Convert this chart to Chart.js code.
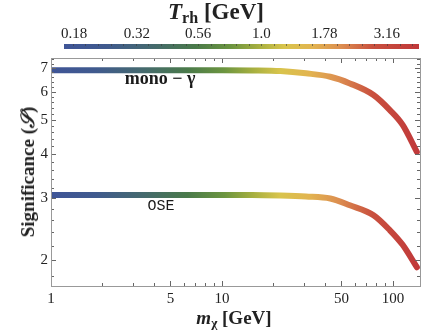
<!DOCTYPE html>
<html>
<head>
<meta charset="utf-8">
<script src="https://cdn.jsdelivr.net/npm/chart.js@4.4.1/dist/chart.umd.min.js"></script>
<style>
  body { margin: 0; background: #fff; }
  #wrap { position: relative; width: 440px; height: 330px; font-family: "Liberation Serif", serif; color: #222; }
  #wrap canvas { position: absolute; left: 0; top: 0; }
  .title { position: absolute; white-space: nowrap; font-weight: bold; transform: translate(-50%, -50%); }
  .title sub { font-size: 70%; vertical-align: -0.25em; line-height: 0; }
</style>
</head>
<body>
<div id="wrap">
  <canvas id="main" width="440" height="330"></canvas>
  <canvas id="bar" width="440" height="58"></canvas>
  <div class="title" style="left:216px;top:12px;font-size:23px"><i>T</i><sub>rh</sub> [GeV]</div>
  <div class="title" style="left:234px;top:318px;font-size:19px"><i>m</i><sub>χ</sub> [GeV]</div>
  <div class="title" style="left:28px;top:172px;font-size:19px;transform:translate(-50%,-50%) rotate(-90deg)">Significance (<i>𝒮</i>)</div>
</div>
<script>
// m_chi [GeV] and significance
const massMono = [1, 5, 10, 15, 22, 31, 43, 56, 77, 96, 114, 138];
const sigMono = [6.90, 6.90, 6.90, 6.89, 6.86, 6.76, 6.61, 6.33, 5.87, 5.32, 4.83, 4.05];
const massOse = [1, 5, 10, 15, 22, 31, 43, 56, 77, 96, 114, 138];
const sigOse = [3.06, 3.06, 3.06, 3.06, 3.05, 3.03, 2.99, 2.86, 2.68, 2.43, 2.21, 1.91];

// axes
const xRange = [1, 144];
const yRange = [1.69, 7.47];
const xLabels = [1, 5, 10, 50, 100];
const xMinor = [2, 3, 4, 6, 7, 8, 9, 20, 30, 40, 60, 70, 80, 90];
const yLabels = [2, 3, 4, 5, 6, 7];
const yMinor = [1.8, 2.2, 2.4, 2.6, 2.8, 3.2, 3.4, 3.6, 3.8, 4.2, 4.4, 4.6, 4.8,
  5.2, 5.4, 5.6, 5.8, 6.2, 6.4, 6.6, 6.8, 7.2, 7.4];

// colour bar (T_rh)
const trhRange = [0.164, 4.24];
const trhTicks = [0.18, 0.32, 0.56, 1.0, 1.78, 3.16];
const trhLabels = ["0.18", "0.32", "0.56", "1.0", "1.78", "3.16"];

const cmap = [
  [0, "#3f5597"], [0.12, "#405a8e"], [0.25, "#456a6e"], [0.37, "#4a7a4a"],
  [0.47, "#6c9540"], [0.55, "#a8b040"], [0.62, "#d8c44c"], [0.70, "#e2b450"],
  [0.78, "#dc8e50"], [0.87, "#c9503e"], [1, "#c0383a"]
];

const serif = "'Liberation Serif', serif";

function makeGradient(chart) {
  const a = chart.chartArea;
  const g = chart.ctx.createLinearGradient(a.left, 0, a.right, 0);
  cmap.forEach(([s, c]) => g.addColorStop(s, c));
  return g;
}

function lineColor(ctx) {
  const chart = ctx.chart;
  if (!chart.chartArea) return cmap[0][1];
  return makeGradient(chart);
}

const toXY = (xs, ys) => xs.map((x, i) => ({ x, y: ys[i] }));

// inward ticks + frame, Mathematica style
const framePlugin = {
  id: "frame",
  afterDatasetsDraw(chart) {
    const { ctx, chartArea: a, scales: { x, y } } = chart;
    ctx.save();
    ctx.strokeStyle = "#666";
    ctx.lineWidth = 1;
    const tick = (x1, y1, x2, y2) => {
      ctx.beginPath(); ctx.moveTo(x1, y1); ctx.lineTo(x2, y2); ctx.stroke();
    };
    xLabels.concat(xMinor).forEach(v => {
      const len = xLabels.includes(v) ? 5 : 3;
      const px = Math.round(x.getPixelForValue(v)) + 0.5;
      tick(px, a.bottom, px, a.bottom - len);
      tick(px, a.top, px, a.top + len);
    });
    yLabels.concat(yMinor).forEach(v => {
      const len = yLabels.includes(v) ? 5 : 3;
      const py = Math.round(y.getPixelForValue(v)) + 0.5;
      tick(a.left, py, a.left + len, py);
      tick(a.right, py, a.right - len, py);
    });
    ctx.strokeStyle = "#999";
    ctx.strokeRect(Math.round(a.left) + 0.5, Math.round(a.top) + 0.5,
      Math.round(a.right - a.left), Math.round(a.bottom - a.top));

    // curve labels
    ctx.fillStyle = "#1a1a1a";
    ctx.textAlign = "center";
    ctx.textBaseline = "middle";
    ctx.font = "bold 18px " + serif;
    ctx.fillText("mono \u2212 \u03b3", x.getPixelForValue(4.34), y.getPixelForValue(6.51));
    ctx.font = "15px 'Liberation Mono', monospace";
    ctx.fillText("OSE", x.getPixelForValue(4.4), y.getPixelForValue(2.84));
    ctx.restore();
  }
};

new Chart(document.getElementById("main"), {
  type: "line",
  data: {
    datasets: [
      { label: "mono-γ", data: toXY(massMono, sigMono) },
      { label: "OSE", data: toXY(massOse, sigOse) }
    ].map(d => Object.assign(d, {
      borderColor: lineColor,
      borderWidth: 6,
      borderCapStyle: "round",
      pointRadius: 0,
      cubicInterpolationMode: "monotone"
    }))
  },
  options: {
    responsive: false,
    animation: false,
    layout: { padding: { left: 0, right: 20, top: 58, bottom: 0 } },
    plugins: { legend: { display: false }, tooltip: { enabled: false } },
    scales: {
      x: {
        type: "logarithmic",
        min: xRange[0], max: xRange[1],
        afterBuildTicks: s => { s.ticks = xLabels.concat(xMinor).sort((p, q) => p - q).map(v => ({ value: v })); },
        afterFit: s => { s.height = 44; },
        grid: { display: false, drawTicks: false },
        border: { display: false },
        ticks: {
          autoSkip: false, maxRotation: 0, padding: 4,
          color: "#222", font: { family: serif, size: 15 },
          callback: v => xLabels.includes(v) ? String(v) : ""
        }
      },
      y: {
        type: "logarithmic",
        min: yRange[0], max: yRange[1],
        afterBuildTicks: s => { s.ticks = yLabels.concat(yMinor).sort((p, q) => p - q).map(v => ({ value: v })); },
        afterFit: s => { s.width = 51; },
        grid: { display: false, drawTicks: false },
        border: { display: false },
        ticks: {
          autoSkip: false, padding: 3,
          color: "#222", font: { family: serif, size: 15 },
          callback: v => yLabels.includes(v) ? String(v) : ""
        }
      }
    }
  },
  plugins: [framePlugin]
});

// colour bar: one floating bar on a log T_rh axis
const trhMinor = [];
for (let k = -15; k <= 12; k++) trhMinor.push(Math.pow(10, k * 0.05));

const barTicks = {
  id: "barTicks",
  afterDatasetsDraw(chart) {
    const { ctx, chartArea: a, scales: { x } } = chart;
    ctx.save();
    ctx.strokeStyle = "rgba(60,60,60,0.6)";
    ctx.lineWidth = 1;
    trhMinor.forEach(v => {
      if (v < trhRange[0] || v > trhRange[1]) return;
      const px = Math.round(x.getPixelForValue(v)) + 0.5;
      ctx.beginPath(); ctx.moveTo(px, a.top); ctx.lineTo(px, a.top + 2); ctx.stroke();
    });
    ctx.restore();
  }
};

new Chart(document.getElementById("bar"), {
  type: "bar",
  data: {
    labels: [""],
    datasets: [{
      data: [trhRange],
      backgroundColor: ctx => ctx.chart.chartArea ? makeGradient(ctx.chart) : cmap[0][1],
      borderWidth: 0,
      barPercentage: 1,
      categoryPercentage: 1
    }]
  },
  options: {
    indexAxis: "y",
    responsive: false,
    animation: false,
    layout: { padding: { left: 64, right: 21, top: 0, bottom: 9 } },
    plugins: { legend: { display: false }, tooltip: { enabled: false } },
    scales: {
      x: {
        type: "logarithmic",
        position: "top",
        min: trhRange[0], max: trhRange[1],
        afterBuildTicks: s => { s.ticks = trhTicks.map(v => ({ value: v })); },
        afterFit: s => { s.height = 44; },
        grid: { display: false, drawTicks: false },
        border: { display: false },
        ticks: {
          autoSkip: false, maxRotation: 0, padding: 1,
          color: "#222", font: { family: serif, size: 15 },
          callback: v => trhLabels[trhTicks.indexOf(v)] ?? ""
        }
      },
      y: { display: false }
    }
  },
  plugins: [barTicks]
});
</script>
</body>
</html>
